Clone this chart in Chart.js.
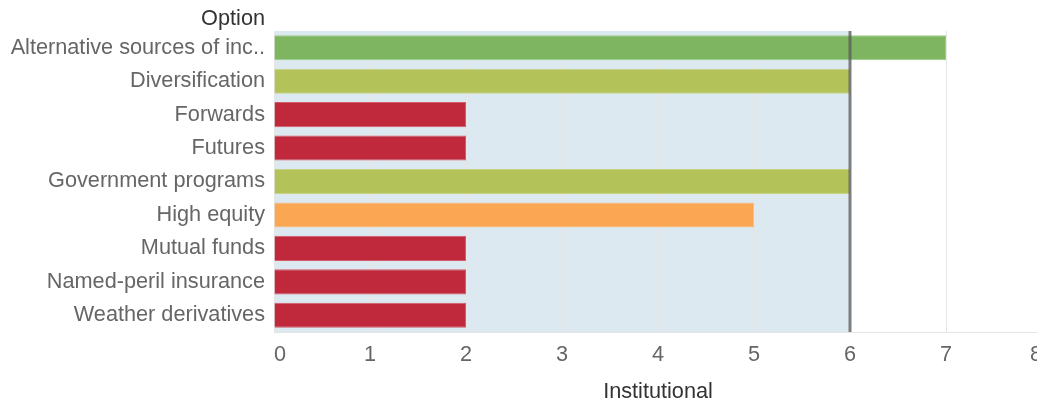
<!DOCTYPE html>
<html><head><meta charset="utf-8">
<script src="https://cdn.jsdelivr.net/npm/chart.js@4/dist/chart.umd.min.js"></script>
<style>
html,body{margin:0;padding:0;overflow:hidden;background:#fff;}
#wrap{width:1052px;height:408px;position:relative;}
</style></head>
<body>
<div id="wrap"><canvas id="c"></canvas></div>
<script>
const categories = ["Alternative sources of inc..","Diversification","Forwards","Futures","Government programs","High equity","Mutual funds","Named-peril insurance","Weather derivatives"];
const values = [7,6,2,2,6,5,2,2,2];
const barColors = ["#7db561","#b3c35a","#c0293c","#c0293c","#b3c35a","#fba652","#c0293c","#c0293c","#c0293c"];
const barBorders = ["#9ccb86","#c6d383","#d35b6a","#d35b6a","#c6d383","#fcbd7f","#d35b6a","#d35b6a","#d35b6a"];
const xTicks = [0,1,2,3,4,5,6,7,8];
const refValue = 6;
const yTitle = "Option";
const xTitle = "Institutional";

const FONT = "'Liberation Sans', Arial, sans-serif";
const FS = 21.7;

const bandPlugin = {
  id: 'band',
  beforeDraw(chart) {
    const {ctx, chartArea, scales} = chart;
    const x0 = scales.x.getPixelForValue(0);
    const x1 = scales.x.getPixelForValue(refValue);
    ctx.save();
    ctx.fillStyle = '#dde9f0';
    ctx.fillRect(x0, chartArea.top, x1 - x0, chartArea.bottom - chartArea.top);
    ctx.restore();
  },
  afterDatasetsDraw(chart) {
    const {ctx, chartArea, scales} = chart;
    const x1 = scales.x.getPixelForValue(refValue);
    ctx.save();
    ctx.strokeStyle = 'rgba(90,90,90,0.75)';
    ctx.lineWidth = 3;
    ctx.beginPath();
    ctx.moveTo(x1, chartArea.top);
    ctx.lineTo(x1, chartArea.bottom);
    ctx.stroke();
    ctx.restore();
  },
  afterDraw(chart) {
    const {ctx} = chart;
    ctx.save();
    ctx.font = FS + "px " + FONT;
    ctx.fillStyle = '#333';
    ctx.textAlign = 'right';
    ctx.textBaseline = 'middle';
    ctx.fillText(yTitle, 265, 19);
    ctx.restore();
  }
};

new Chart(document.getElementById('c'), {
  type: 'bar',
  data: {
    labels: categories,
    datasets: [{
      data: values,
      backgroundColor: barColors,
      borderColor: barBorders,
      borderWidth: 1,
      barPercentage: 0.75,
      categoryPercentage: 1.0
    }]
  },
  options: {
    indexAxis: 'y',
    responsive: true,
    maintainAspectRatio: false,
    animation: false,
    layout: { padding: { top: 31, left: 0, right: 0, bottom: 0 } },
    plugins: { legend: { display: false }, tooltip: { enabled: false } },
    scales: {
      x: {
        min: 0, max: 8,
        afterBuildTicks(s) { s.ticks = xTicks.map(v => ({value: v})); },
        afterFit(s) { s.height = 76; },
        grid: { color: '#e6e6e6', drawTicks: false, lineWidth: 1 },
        border: { color: '#e6e6e6' },
        ticks: { color: '#666', font: { family: FONT, size: FS }, padding: 10, maxRotation: 0, align: 'inner' },
        title: { display: true, text: xTitle, color: '#333', font: { family: FONT, size: FS }, padding: { top: 10, bottom: 3 } }
      },
      y: {
        afterFit(s) { s.width = 274; },
        grid: { display: false, drawTicks: false },
        border: { display: false },
        ticks: { color: '#666', font: { family: FONT, size: FS }, padding: 9 }
      }
    }
  },
  plugins: [bandPlugin]
});
</script>
</body></html>
